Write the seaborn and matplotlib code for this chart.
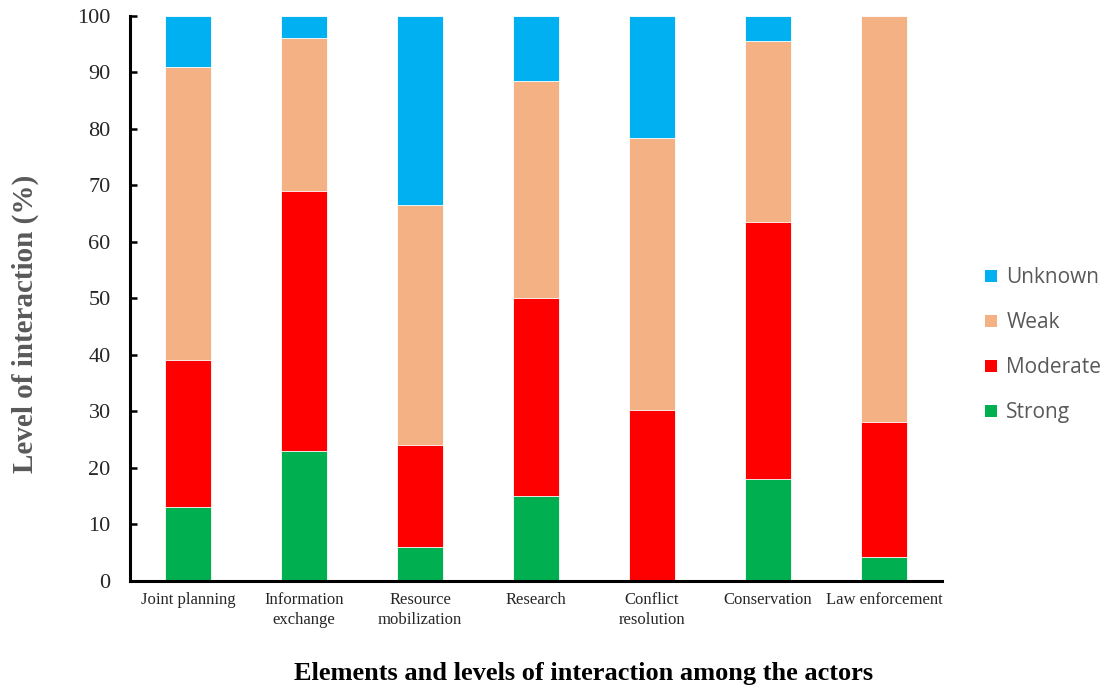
import pandas as pd
import numpy as np
import matplotlib
matplotlib.use("Agg")
import matplotlib.pyplot as plt
import seaborn as sns
from matplotlib.patches import Patch

# Data (percent of responses)
elements = ["Joint planning", "Information\nexchange", "Resource\nmobilization",
            "Research", "Conflict\nresolution", "Conservation", "Law enforcement"]
strong = [13, 23, 6, 15, 0, 18, 4.3]
moderate = [26, 46, 18, 35, 30.3, 45.5, 23.9]
weak = [52, 27, 42.5, 38.5, 48, 32, 71.8]
unknown = [9, 4, 33.5, 11.5, 21.7, 4.5, 0]

levels = ["Strong", "Moderate", "Weak", "Unknown"]
colors = {"Strong": "#00B050", "Moderate": "#FF0000", "Weak": "#F4B183", "Unknown": "#00B0F0"}

df = pd.DataFrame({"element": elements, "Strong": strong, "Moderate": moderate,
                   "Weak": weak, "Unknown": unknown})
cum = df[levels].cumsum(axis=1)
cum["element"] = df["element"]

sns.set_style("white")
plt.rcParams["font.family"] = ["Liberation Serif", "DejaVu Serif"]

fig = plt.figure(figsize=(11.03, 6.89), dpi=100)
ax = fig.add_axes([0.118, 0.157, 0.736, 0.820])

# draw tallest cumulative layer first so lower layers sit on top
for lvl in reversed(levels):
    sns.barplot(data=cum, x="element", y=lvl, color=colors[lvl], width=0.4,
                edgecolor="white", linewidth=0.6, saturation=1, ax=ax)

ax.set_ylim(0, 100)
ax.set_xlim(-0.5, 6.5)
ax.set_yticks(np.arange(0, 101, 10))
ax.set_xlabel("")
ax.set_ylabel("")
for side in ["top", "right"]:
    ax.spines[side].set_visible(False)
for side in ["left", "bottom"]:
    ax.spines[side].set_linewidth(2.2)
    ax.spines[side].set_color("black")
ax.tick_params(axis="y", direction="in", length=5, width=1.8, labelsize=16, pad=14,
               left=True, colors="black", labelcolor="#262626")
ax.tick_params(axis="x", length=0, labelsize=12, pad=8, labelcolor="#262626")
for lab in ax.get_xticklabels():
    lab.set_linespacing(1.35)

fig.text(0.023, 1 - 324 / 689, "Level of interaction (%)", rotation=90, ha="center",
         va="center", fontsize=21, fontweight="bold", color="#595959")
fig.text(0.529, 0.023, "Elements and levels of interaction among the actors",
         ha="center", va="center", fontsize=19, fontweight="bold", color="black")

handles = [Patch(facecolor=colors[l], edgecolor="none") for l in ["Unknown", "Weak", "Moderate", "Strong"]]
leg = fig.legend(handles, ["Unknown", "Weak", "Moderate", "Strong"], loc="upper left",
                 bbox_to_anchor=(0.884, 0.627), frameon=False, handlelength=0.55,
                 handleheight=0.55, handletextpad=0.45, labelspacing=1.15, borderpad=0,
                 prop={"family": "Open Sans", "size": 15})
for t in leg.get_texts():
    t.set_color("#595959")

fig.savefig("out.png", dpi=100)
